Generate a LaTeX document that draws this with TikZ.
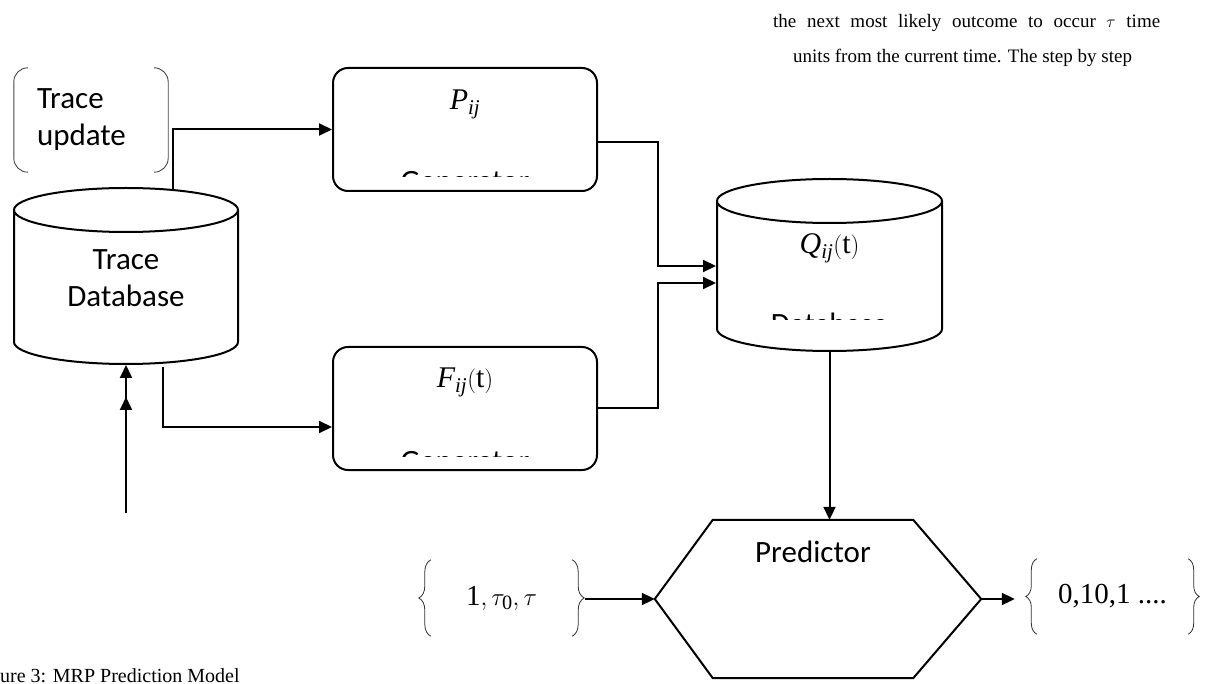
\documentclass[tikz,border=0pt]{standalone}
\usepackage{fontspec}
\setmainfont{Liberation Serif}
\newfontfamily\calfont{Carlito}
\usetikzlibrary{shapes.geometric, arrows.meta, positioning, calc,
                decorations.pathreplacing}
\definecolor{cLine}{RGB}{0,0,0}
\definecolor{cBrace}{RGB}{50,50,50}
\definecolor{cBracket}{RGB}{70,70,70}
\tikzset{
  labelfont/.style={font=\calfont\fontsize{31}{37}\selectfont},
  genbox/.style={rectangle, rounded corners=15pt, draw=cLine, line width=2pt,
                 minimum width=264pt, minimum height=123pt, inner sep=0pt},
  dbnode/.style={cylinder, shape border rotate=90, draw=cLine, line width=2pt,
                 aspect=0.22, minimum width=224pt, minimum height=176pt,
                 inner sep=0pt, text width=200pt, anchor=north},
  mathlbl/.style={inner sep=0pt, font=\fontsize{30}{36}\selectfont},
  bracebox/.style={rectangle, inner sep=0pt, minimum height=76pt,
                   font=\fontsize{29}{34}\selectfont},
  brace/.style={decorate, decoration={brace, amplitude=12pt},
                line width=0.8pt, draw=cBrace},
  bracket/.style={rounded corners=14pt, line width=0.9pt, draw=cBracket},
  hexline/.style={line width=2pt, draw=cLine},
  arrow/.style={-{Triangle[length=13pt,width=12pt]}, line width=2pt, color=cLine},
  dblarrow/.style={-{Triangle[length=13pt,width=12pt,sep=19pt]Triangle[length=13pt,width=12pt]},
                   line width=2pt, color=cLine},
  pagetext/.style={inner sep=0pt, font=\fontsize{19}{23}\selectfont}
}

\begin{document}
\begin{tikzpicture}[x=1pt, y=1pt]
  \useasboundingbox (0,0) rectangle (1214,683);

  % Page text
  \node[pagetext, anchor=base west] (txtA) at (773,655)
      {\makebox[387pt][s]{the next most likely outcome to occur $\tau$ time}};
  \node[pagetext, anchor=base west] (txtB) at (793,620)
      {units from the current time. The step by step};
  \node[pagetext, font=\fontsize{20}{24}\selectfont, anchor=base west] (cap) at (0,1)
      {ure 3: MRP Prediction Model};

  % Trace side
  \node[rectangle, inner sep=0pt, minimum width=154pt, minimum height=104pt,
        text width=108pt, align=left, labelfont] (upd) at (91,563) {Trace\\update};
  \draw[bracket] ([xshift=14pt]upd.north west) -- (upd.north west)
      -- (upd.south west) -- ([xshift=14pt]upd.south west);
  \draw[bracket] ([xshift=-14pt]upd.north east) -- (upd.north east)
      -- (upd.south east) -- ([xshift=-14pt]upd.south east);

  \node[dbnode] (tdb) at (126,496) {};
  \node[labelfont, align=center, inner sep=0pt] (tdblbl) at ([yshift=-91pt]tdb.north) {Trace\\Database};
  \coordinate (tdbtop) at ([xshift=47pt,yshift=-2pt]tdb.north);
  \coordinate (tdbbot) at ([xshift=37pt,yshift=-2pt]tdb.south);
  \coordinate (feed) at (126,170);

  % Generators
  \node[genbox] (pgen) at (465,553.5) {};
  \node[mathlbl] (plbl) at ([yshift=25pt]pgen.center) {$\mathit{P}_{\mathit{ij}}$};
  \begin{scope}
    \clip ([yshift=-110pt]pgen.north west) rectangle (pgen.north east);
    \node[labelfont, anchor=base] (ptxt) at ([yshift=-125pt]pgen.north) {Generator};
  \end{scope}

  \node[genbox, below=154pt of pgen] (fgen) {};
  \node[mathlbl] (flbl) at ([yshift=26pt]fgen.center) {$\mathit{F}_{\mathit{ij}}\mathrm{(t)}$};
  \begin{scope}
    \clip ([yshift=-110pt]fgen.north west) rectangle (fgen.north east);
    \node[labelfont, anchor=base] (ftxt) at ([yshift=-125pt]fgen.north) {Generator};
  \end{scope}

  % Q database
  \node[dbnode, minimum width=225pt, minimum height=172pt] (qdb) at (829.5,505) {};
  \node[mathlbl] (qlbl) at ([yshift=-70pt]qdb.north) {$\mathit{Q}_{\mathit{ij}}\mathrm{(t)}$};
  \coordinate (qa) at ([yshift=-88pt]qdb.north);
  \coordinate (qb) at ([yshift=-105pt]qdb.north);
  \coordinate (qclip) at ([yshift=-142pt]qdb.north);
  \begin{scope}
    \clip (qclip -| qdb.west) rectangle (qdb.north -| qdb.east);
    \node[labelfont, anchor=base] (qtxt) at ([yshift=-157pt]qdb.north) {Database};
  \end{scope}

  % Predictor
  \node[rectangle, inner sep=0pt, minimum width=326pt, minimum height=158pt] (pred) at (818,84) {};
  \draw[hexline] ([xshift=58pt]pred.north west) -- ([xshift=-68pt]pred.north east)
      -- (pred.east) -- ([xshift=-68pt]pred.south east)
      -- ([xshift=58pt]pred.south west) -- (pred.west) -- cycle;
  \node[labelfont] (predlbl) at ([xshift=-5pt,yshift=47pt]pred.center) {Predictor};

  \node[bracebox, minimum width=141pt] (tin) at (501.5,85)
      {$\mathrm{1},\tau_{\mathrm{0}},\tau$};
  \draw[brace] (tin.south west) -- (tin.north west);
  \draw[brace] (tin.north east) -- (tin.south east);

  \node[bracebox, minimum width=151pt, minimum height=75pt] (tout) at (1112.5,86.5) {0,10,1 ....};
  \draw[brace, decoration={amplitude=11pt}] (tout.south west) -- (tout.north west);
  \draw[brace, decoration={amplitude=11pt}] (tout.north east) -- (tout.south east);

  % Arrows
  \draw[arrow] (tdbtop) |- (pgen.west);
  \draw[arrow] (tdbbot) |- ([yshift=-18.5pt]fgen.west);
  \draw[dblarrow] (feed) -- (tdb.south);
  \draw[arrow] ([yshift=-12.5pt]pgen.east) -- ++(60pt,0) |- (qa -| qdb.west);
  \draw[arrow] (fgen.east) -- ++(60pt,0) |- (qb -| qdb.west);
  \draw[arrow] (qdb.south) -- (qdb.south |- pred.north);
  \draw[arrow] ([xshift=13pt]tin.east |- pred.west) -- (pred.west);
  \draw[arrow] (pred.east) -- ([xshift=-22pt]tout.west |- pred.east);

\end{tikzpicture}
\end{document}
